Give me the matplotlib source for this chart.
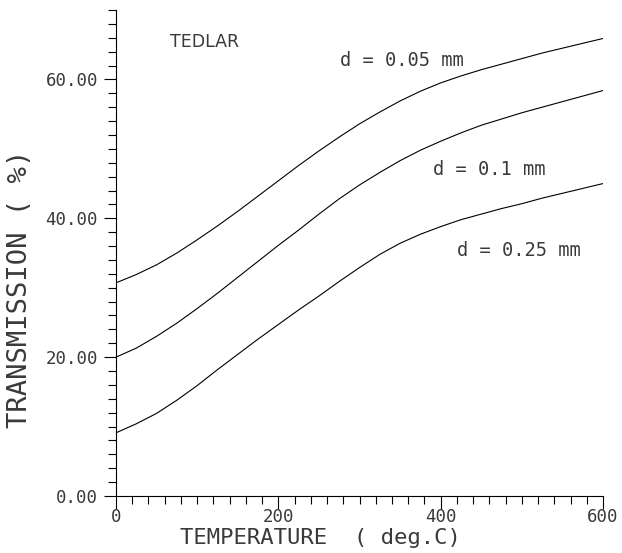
import matplotlib
matplotlib.use("Agg")
import matplotlib.pyplot as plt
from matplotlib.ticker import MultipleLocator

temperature = [0, 25, 50, 75, 100, 125, 150, 175, 200, 225, 250, 275, 300,
               325, 350, 375, 400, 425, 450, 475, 500, 525, 550, 575, 600]
trans_005 = [30.7, 31.9, 33.3, 35.0, 36.9, 38.9, 41.0, 43.2, 45.4, 47.6, 49.7, 51.7, 53.6,
             55.3, 56.9, 58.3, 59.5, 60.5, 61.4, 62.2, 63.0, 63.8, 64.5, 65.2, 65.9]
trans_010 = [20.0, 21.3, 23.0, 24.9, 27.0, 29.2, 31.5, 33.8, 36.1, 38.3, 40.6, 42.8, 44.8,
             46.6, 48.3, 49.8, 51.1, 52.3, 53.4, 54.3, 55.2, 56.0, 56.8, 57.6, 58.4]
trans_025 = [9.1, 10.4, 11.9, 13.8, 15.9, 18.2, 20.4, 22.6, 24.7, 26.8, 28.8, 30.9, 32.9,
             34.8, 36.4, 37.7, 38.8, 39.8, 40.6, 41.4, 42.1, 42.9, 43.6, 44.3, 45.0]
curve_labels = ["d = 0.05 mm", "d = 0.1 mm", "d = 0.25 mm"]
x_ticks = [0, 200, 400, 600]
x_tick_labels = ["0", "200", "400", "600"]
y_ticks = [0, 20, 40, 60]
y_tick_labels = ["0.00", "20.00", "40.00", "60.00"]

mono = "DejaVu Sans Mono"
txt = "#3a3a3a"
fig = plt.figure(figsize=(6.22, 5.53), dpi=100)
ax = fig.add_axes([116 / 622, 1 - 496 / 553, (603 - 116) / 622, (496 - 10) / 553])

for ys in (trans_005, trans_010, trans_025):
    ax.plot(temperature, ys, color="black", lw=0.8)

ax.set_xlim(0, 600)
ax.set_ylim(0, 70)
for s in ("top", "right"):
    ax.spines[s].set_visible(False)
for s in ("left", "bottom"):
    ax.spines[s].set_linewidth(0.8)

ax.set_xticks(x_ticks)
ax.set_xticklabels(x_tick_labels, family=mono, fontsize=12.5, color=txt)
ax.set_yticks(y_ticks)
ax.set_yticklabels(y_tick_labels, family=mono, fontsize=12.5, color=txt)
ax.xaxis.set_minor_locator(MultipleLocator(20))
ax.yaxis.set_minor_locator(MultipleLocator(2))
ax.tick_params(which="major", direction="out", length=9, width=0.8)
ax.tick_params(axis="x", which="major", pad=0)
ax.tick_params(axis="y", which="major", pad=4)
ax.tick_params(which="minor", direction="out", length=5.5, width=0.8)

ax.set_xlabel("TEMPERATURE  ( deg.C)", family=mono, fontsize=16, color=txt, va="center")
ax.xaxis.set_label_coords(0.419, -0.086)
ax.set_ylabel("TRANSMISSION ( %)", family=mono, fontsize=19.5, color=txt, va="center")
ax.yaxis.set_label_coords(-0.198, 0.427)

ax.text(66, 65.4, "TEDLAR", family="DejaVu Sans", fontsize=12.5, va="center", color=txt)
ax.text(276, 62.7, curve_labels[0], family=mono, fontsize=13.5, va="center", color=txt)
ax.text(391, 47.0, curve_labels[1], family=mono, fontsize=13.5, va="center", color=txt)
ax.text(420, 35.4, curve_labels[2], family=mono, fontsize=13.5, va="center", color=txt)

fig.savefig("out.png", dpi=100)
